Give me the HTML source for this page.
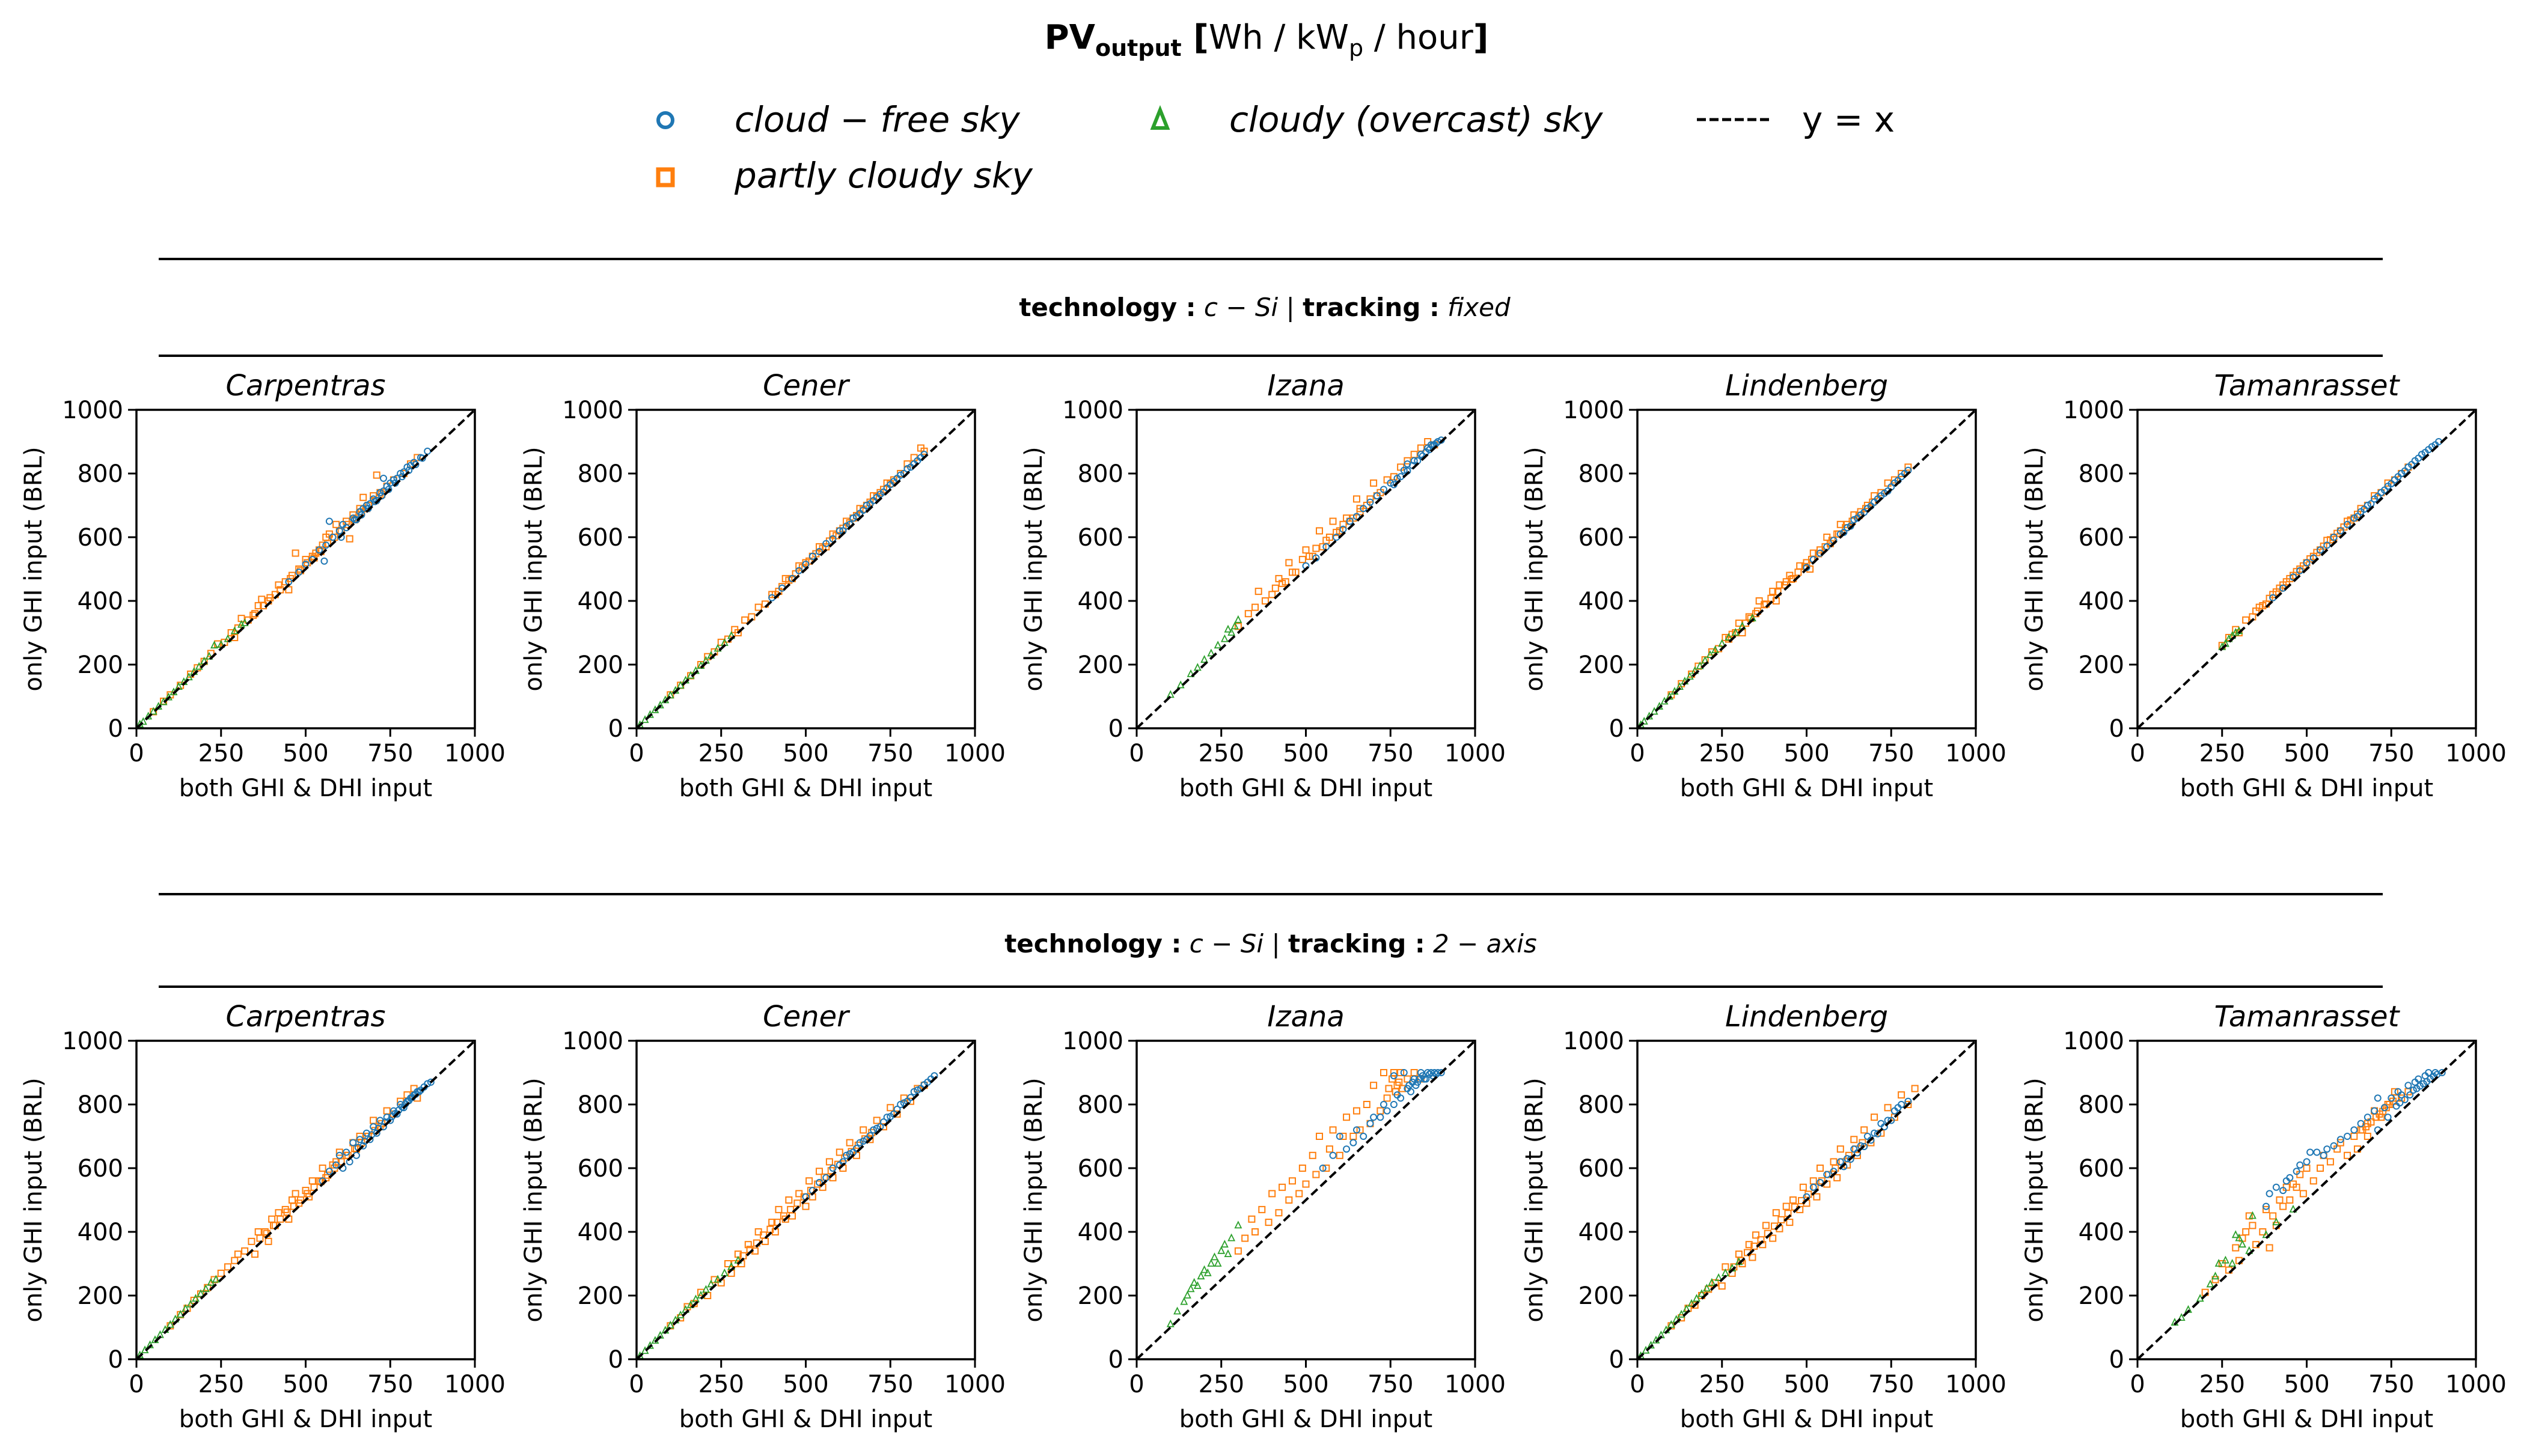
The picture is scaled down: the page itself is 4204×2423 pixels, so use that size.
<!DOCTYPE html>
<html><head><meta charset="utf-8">
<style>
html,body{margin:0;padding:0;background:#fff;}
svg{display:block;font-family:"DejaVu Sans","Liberation Sans",sans-serif;}
</style></head>
<body>
<svg id="fig" width="4204" height="2423" viewBox="0 0 4204 2423" xmlns="http://www.w3.org/2000/svg">
<text x="2107" y="81" text-anchor="middle" font-size="56"><tspan font-weight="bold">PV</tspan><tspan font-weight="bold" font-size="38" dy="12">output</tspan><tspan dy="-12" font-weight="bold">    [</tspan><tspan>Wh / kW</tspan><tspan font-size="38" dy="12">p</tspan><tspan dy="-12"> / hour</tspan><tspan font-weight="bold">]</tspan></text>
<g>
 <circle cx="1107" cy="200" r="12" fill="none" stroke="#1f77b4" stroke-width="6"/>
 <text x="1222" y="219" font-size="58" font-style="italic">cloud − free sky</text>
 <rect x="1095" y="282" width="24" height="26" fill="none" stroke="#ff7f0e" stroke-width="7"/>
 <text x="1222" y="312" font-size="58" font-style="italic">partly cloudy sky</text>
 <polygon points="1930,183 1942,213 1918,213" fill="none" stroke="#2ca02c" stroke-width="6"/>
 <text x="2045" y="219" font-size="58" font-style="italic">cloudy (overcast) sky</text>
 <line x1="2823" y1="199" x2="2948" y2="199" stroke="#000" stroke-width="5" stroke-dasharray="15,6"/>
 <text x="2998" y="219" font-size="58">y = x</text>
</g>
<line x1="264" y1="431" x2="3964" y2="431" stroke="#000" stroke-width="4"/>
<text x="2104" y="526" text-anchor="middle" font-size="42"><tspan font-weight="bold">technology :</tspan><tspan font-style="italic"> c − Si </tspan><tspan>| </tspan><tspan font-weight="bold">tracking :</tspan><tspan font-style="italic"> fixed</tspan></text>
<line x1="264" y1="592" x2="3964" y2="592" stroke="#000" stroke-width="4"/>
<line x1="264" y1="1488" x2="3964" y2="1488" stroke="#000" stroke-width="4"/>
<text x="2114" y="1585" text-anchor="middle" font-size="42"><tspan font-weight="bold">technology :</tspan><tspan font-style="italic"> c − Si </tspan><tspan>| </tspan><tspan font-weight="bold">tracking :</tspan><tspan font-style="italic"> 2 − axis</tspan></text>
<line x1="264" y1="1642" x2="3964" y2="1642" stroke="#000" stroke-width="4"/>
<g id="panels"></g>
</svg>
<script>
const sites = ["Carpentras","Cener","Izana","Lindenberg","Tamanrasset"];
const xTicks = [0,250,500,750,1000];
const yTicks = [0,200,400,600,800,1000];
const xTickLabels = ["0","250","500","750","1000"];
const yTickLabels = ["0","200","400","600","800","1000"];

// Row 1: fixed tracking
const carpFixedClear = [450,460,480,490,500,515,520,530,540,560,555,525,560,575,570,650,580,600,600,620,605,600,610,640,620,630,640,660,650,655,660,680,670,690,680,700,690,705,700,720,710,715,720,740,730,745,730,785,740,760,750,770,760,780,770,785,780,800,790,805,800,820,810,825,820,835,840,850,860,870,645,655,665,670,685,690,705,712,725,730,745,750,765,770,785,790,805,810,825,828,845,848];
const carpFixedPartly = [50,52,80,85,100,105,130,135,160,170,180,190,200,210,220,235,240,265,260,270,280,300,290,285,300,315,310,345,330,340,350,360,360,385,370,405,390,400,410,420,420,450,440,460,450,435,460,480,470,550,480,500,500,530,520,540,530,550,540,560,550,575,560,600,570,610,590,640,600,620,620,650,630,595,640,670,650,660,660,690,680,690,700,730,720,740,740,760,760,780,790,800,810,830,830,850,710,795,670,725,345,355,375,385,395,410,425,435,455,470,485,495,505,520,525,535,545,555,565,580,585,600,605,618,625,640,645,655,665,680,685,700,705,715,725,735];
const carpFixedCloudy = [10,12,20,20,35,37,50,52,65,68,80,82,95,97,110,113,125,130,140,145,155,160,170,177,185,193,200,210,215,225,230,260,250,262,270,280,290,305,310,325,320,330];

const cenFixedClear = [400,410,430,440,460,470,480,495,500,515,520,540,540,555,560,580,580,595,600,620,620,635,640,660,660,675,680,700,700,715,720,735,740,755,760,775,780,795,800,815,820,830,840,850,850,860,610,620,630,640,650,665,670,685,690,705,710,725,730,742,750,765,770,785,790,800,810,820,830,840];
const cenFixedPartly = [100,105,130,135,160,165,190,200,210,225,230,240,250,270,270,280,290,310,300,300,320,340,340,350,360,380,380,390,400,420,420,430,440,470,460,470,480,510,500,520,520,540,540,570,560,570,580,610,600,620,620,650,640,660,660,690,680,700,700,730,720,740,740,770,760,780,780,800,800,830,820,850,840,880,850,870,410,420,430,445,450,465,470,485,490,505,510,525,530,548,550,565,570,588,590,605,610,628,630,645,650,668,670,688,690,710,710,728,730,750,750,768];
const cenFixedCloudy = [10,10,25,26,40,42,55,57,70,72,85,88,100,103,115,118,130,134,145,150,160,165,175,180,190,196,205,212,220,228,240,250,260,268,280,290];

const izaFixedClear = [500,510,530,535,560,570,590,600,610,625,630,650,650,665,670,690,690,710,710,730,730,750,750,770,770,785,790,810,800,830,820,840,840,860,860,880,870,890,890,900,900,905,880,890,760,765,780,790,800,808,815,825,830,840,845,855,855,868,865,875,875,888,885,895];
const izaFixedPartly = [300,320,330,360,350,380,360,430,380,400,400,420,420,470,440,460,450,520,470,490,490,530,500,560,520,540,540,620,550,570,570,600,580,650,600,620,620,660,640,660,650,720,660,690,680,700,700,770,720,740,740,780,760,790,780,820,800,840,820,860,840,880,860,900,880,890,410,440,430,455,460,490,510,540,530,565,560,590,590,615,610,640,630,650,660,680,690,720,710,730];
const izaFixedCloudy = [100,105,130,135,160,170,180,190,200,215,220,235,240,260,260,280,270,310,280,300,290,320,300,340];

const linFixedClear = [500,505,520,530,540,550,560,570,580,590,600,610,620,630,640,655,660,670,680,690,700,710,720,730,740,745,760,770,780,790,790,800,800,810,610,615,630,635,650,660,670,678,690,698,710,720,730,738,750,758,770,778];
const linFixedPartly = [100,105,130,140,160,170,180,195,200,215,220,240,240,250,260,285,280,295,300,330,310,300,330,350,350,360,360,400,380,390,400,430,410,400,420,450,440,460,450,480,460,470,480,510,500,520,510,500,520,550,540,560,560,600,570,580,590,610,600,640,620,640,640,670,660,680,680,700,700,730,720,740,740,770,760,780,780,800,800,820,270,280,290,300,320,330,335,345,355,368,375,388,395,408,415,428,435,450,455,468,475,490,495,508,515,530,535,548,555,570,575,590,595,610,615,630,635,650,655,668,675,690,695,710];
const linFixedCloudy = [10,10,20,21,35,37,50,52,65,68,80,84,95,99,110,115,125,130,140,147,155,162,170,180,185,195,200,212,215,230,230,245,250,265,270,285,290,300,310,320,340,345];

const tamFixedClear = [400,410,430,440,460,475,480,495,500,520,520,535,540,560,560,575,580,600,600,620,620,640,640,660,660,680,680,700,700,720,720,740,740,760,760,780,780,800,800,820,820,840,840,860,860,875,880,890,890,900,650,665,670,688,690,705,710,728,730,748,750,768,770,790,790,808,810,828,830,848,850,866,870,884];
const tamFixedPartly = [250,260,270,285,290,310,300,300,320,340,340,350,360,380,380,390,400,420,420,440,440,460,460,480,480,500,500,520,520,540,540,560,560,590,580,600,600,620,620,650,640,660,660,690,680,700,700,730,720,740,740,770,760,780,780,800,800,820,350,368,370,385,390,408,410,428,430,450,450,470,470,492,490,510,510,532,530,552,550,572,570,592,590,612,610,632,630,654,650,672];
const tamFixedCloudy = [250,255,260,265,270,280,280,290,290,300,300,305];

// Row 2: 2-axis tracking
const carp2Clear = [550,560,570,590,590,610,600,640,610,600,620,650,630,620,640,680,650,640,660,690,670,670,680,710,690,690,700,730,710,710,720,750,730,730,740,760,750,750,760,780,770,770,780,800,790,790,800,810,810,820,820,830,830,840,840,845,850,855,860,865,870,870,655,665,675,685,695,705,715,725,735,745,755,762,765,772,775,782,785,792,795,802,805,812,815,822,825,832,835,840];
const carp2Partly = [100,105,130,140,150,160,170,185,190,205,210,225,230,250,250,270,270,290,290,310,300,330,320,340,340,370,350,330,360,400,380,400,390,370,400,440,410,420,420,460,440,470,450,440,460,500,470,520,480,490,500,530,510,510,520,560,540,560,550,600,560,570,580,610,590,620,600,650,620,640,640,680,650,660,660,700,680,700,700,750,720,730,740,780,760,770,780,810,800,830,820,850,830,820,365,380,385,395,405,420,425,440,445,462,465,480,485,500,505,520,525,540,545,558,565,578,585,600,605,620,625,640,645,662,665,680,685,700,705,718,725,740];
const carp2Cloudy = [10,12,25,28,40,44,55,60,70,76,85,92,100,108,115,125,130,140,145,158,160,172,175,190,190,205,205,220,220,240,235,250];

const cen2Clear = [500,510,520,530,540,555,560,570,580,600,600,610,620,640,640,650,660,680,680,690,700,720,720,730,740,760,760,770,780,800,800,810,820,840,840,850,860,870,870,880,880,890,610,620,630,645,650,662,670,685,690,702,710,725,730,745,750,762,770,785,790,805,810,822,830,845,850,862];
const cen2Partly = [100,105,130,130,150,165,170,175,190,210,210,200,230,250,250,240,270,300,280,270,300,330,310,300,330,360,350,340,360,400,380,370,400,430,410,400,420,470,440,440,450,500,460,450,480,520,500,480,510,560,520,510,540,590,550,540,570,620,580,570,600,650,610,600,630,680,650,640,670,720,690,690,710,750,730,730,750,790,770,770,790,820,810,810,830,850,850,860,290,300,315,325,335,345,355,365,375,390,395,408,415,430,435,450,455,470,475,490,495,510,515,530,535,550,555,572,575,592,595,612,615,632,635,652,655,672,675,692,695,712];
const cen2Cloudy = [10,10,25,26,40,42,55,58,70,74,85,90,100,106,115,122,130,138,145,155,160,170,175,188,190,200,205,218,220,235,240,250,260,270,280,290,300,310];

const iza2Clear = [550,600,580,640,600,700,620,660,640,680,650,720,670,700,690,740,700,760,720,760,730,800,740,780,760,800,770,830,780,820,800,850,810,840,820,880,830,870,840,900,850,880,860,900,870,900,880,900,890,900,900,900,760,890,790,900,805,860,815,870,825,860,835,880,845,890,855,880,865,895,875,890,885,895];
const iza2Partly = [300,340,320,380,340,440,350,400,370,470,390,430,400,520,420,460,430,540,450,500,460,560,480,520,490,600,500,550,520,640,530,580,540,700,560,600,570,660,580,720,600,640,610,700,620,760,640,700,650,780,660,720,680,800,690,740,700,860,720,780,730,900,740,820,760,900,770,860,780,900,800,880,820,900,840,880,745,850,755,880,765,840,775,870,785,850];
const iza2Cloudy = [100,110,120,150,140,180,150,200,160,220,170,240,180,230,190,260,200,280,210,270,220,300,230,320,240,300,250,340,260,360,270,330,280,380,300,420];

const lin2Clear = [500,510,520,540,540,555,560,580,580,590,600,620,620,630,640,660,660,670,680,700,700,710,720,740,740,750,760,780,770,790,780,800,800,810,610,605,630,628,650,648,670,668,690,688,710,708,730,730,750,750];
const lin2Partly = [100,105,130,130,150,160,170,170,190,200,210,220,230,240,250,230,260,290,280,270,300,330,310,300,330,360,340,320,350,390,370,360,380,420,400,380,410,460,420,410,440,480,450,430,460,500,480,470,490,540,500,490,520,560,530,510,540,600,560,550,580,620,590,570,600,660,620,610,640,690,650,640,670,720,690,680,700,760,720,710,740,790,760,760,780,830,800,800,820,850,285,290,305,310,325,335,345,355,365,375,385,395,405,418,425,438,445,458,465,478,485,498,505,518,525,540,545,560,565,580,585,600,605,620,625,640,645,660,665,680];
const lin2Cloudy = [10,10,25,27,40,43,55,59,70,75,85,91,100,108,115,124,130,140,145,157,160,174,175,190,190,205,205,222,220,240,240,255,260,270,280,285,300,305];

const tam2Clear = [380,480,390,520,410,540,430,530,440,560,450,570,470,590,480,610,500,620,510,650,530,650,550,640,560,660,580,670,600,690,620,700,640,720,660,740,680,760,700,780,710,820,730,790,750,820,770,840,780,830,800,860,820,870,830,880,850,890,860,900,880,900,900,900,740,760,710,720,765,795,775,805,790,815,805,830,815,845,825,850,835,858,845,865,855,872,865,880,875,888,885,894];
const tam2Partly = [200,210,230,250,250,300,270,280,290,350,300,310,310,380,320,400,330,450,340,420,350,360,370,400,380,470,390,350,400,450,410,420,420,500,430,480,440,540,450,500,460,550,470,540,480,580,490,520,500,600,520,560,540,600,550,640,570,620,590,660,600,680,620,640,640,700,660,720,680,740,700,780,720,760,740,800,760,840,780,820,800,840,680,700,650,660,665,720,675,730,690,745,705,760,715,770,725,778,735,790,745,800,755,810,765,820];
const tam2Cloudy = [110,115,130,130,150,155,185,190,215,235,230,260,240,300,260,310,280,300,290,390,300,380,310,360,330,340,340,450,380,390,410,430,460,470];

const rows = [
  [[carpFixedClear,carpFixedPartly,carpFixedCloudy],[cenFixedClear,cenFixedPartly,cenFixedCloudy],[izaFixedClear,izaFixedPartly,izaFixedCloudy],[linFixedClear,linFixedPartly,linFixedCloudy],[tamFixedClear,tamFixedPartly,tamFixedCloudy]],
  [[carp2Clear,carp2Partly,carp2Cloudy],[cen2Clear,cen2Partly,cen2Cloudy],[iza2Clear,iza2Partly,iza2Cloudy],[lin2Clear,lin2Partly,lin2Cloudy],[tam2Clear,tam2Partly,tam2Cloudy]]
];

const NS = "http://www.w3.org/2000/svg";
const root = document.getElementById("panels");
function mk(tag, attrs, parent){const e=document.createElementNS(NS,tag);for(const k in attrs)e.setAttribute(k,attrs[k]);parent.appendChild(e);return e;}

const PW = 563, PH = 530;
const lefts = [227, 1059, 1891, 2724, 3556];
const tops = [682, 1732];

for (let r=0;r<2;r++){
  for (let c=0;c<5;c++){
    const L=lefts[c], T=tops[r], B=T+PH, R=L+PW;
    const sx = v => L + v/1000*PW;
    const sy = v => B - v/1000*PH;
    const g = mk("g",{},root);
    
    
    const t = mk("text",{x:(L+R)/2,y:T-24,"text-anchor":"middle","font-size":48,"font-style":"italic"},g);
    t.textContent = sites[c];
    
    
    const [clear,partly,cloudy] = rows[r][c];
    const gs = mk("g",{},g);
    
    
    for (let i=0;i<partly.length;i+=2){
      const m = mk("rect",{x:sx(partly[i])-5,y:sy(partly[i+1])-5,width:10,height:10,fill:"none",stroke:"#ff7f0e","stroke-width":2},gs);
      
      
    }
    const gc = mk("g",{},g);
    
    
    for (let i=0;i<clear.length;i+=2){
      const m = mk("circle",{cx:sx(clear[i]),cy:sy(clear[i+1]),r:5,fill:"none",stroke:"#1f77b4","stroke-width":2},gc);
      
      
    }
    const gt = mk("g",{},g);
    
    
    for (let i=0;i<cloudy.length;i+=2){
      const x=sx(cloudy[i]), y=sy(cloudy[i+1]);
      const m = mk("polygon",{points:`${x},${y-6} ${x+5},${y+4} ${x-5},${y+4}`,fill:"none",stroke:"#2ca02c","stroke-width":1.8},gt);
      
      
    }
    const d = mk("line",{x1:sx(0),y1:sy(0),x2:sx(1000),y2:sy(1000),stroke:"#000","stroke-width":4,"stroke-dasharray":"14,7"},g);
    
    
    const fr = mk("rect",{x:L,y:T,width:PW,height:PH,fill:"none",stroke:"#000","stroke-width":3.5},g);
    
    
    xTicks.forEach((v,i)=>{
      mk("line",{x1:sx(v),y1:B,x2:sx(v),y2:B+14,stroke:"#000","stroke-width":3},g);
      const tl = mk("text",{x:sx(v),y:B+55,"text-anchor":"middle","font-size":40},g);
      tl.textContent = xTickLabels[i];
      
      
    });
    yTicks.forEach((v,i)=>{
      mk("line",{x1:L-14,y1:sy(v),x2:L,y2:sy(v),stroke:"#000","stroke-width":3},g);
      const tl = mk("text",{x:L-22,y:sy(v)+14,"text-anchor":"end","font-size":40},g);
      tl.textContent = yTickLabels[i];
      
      
    });
    const xl = mk("text",{x:(L+R)/2,y:B+113,"text-anchor":"middle","font-size":40},g);
    xl.textContent = "both GHI & DHI input";
    
    
    const yx = L-158, yy=(T+B)/2;
    const yl = mk("text",{x:yx,y:yy,"text-anchor":"middle","font-size":40,transform:`rotate(-90 ${yx} ${yy})`},g);
    yl.textContent = "only GHI input (BRL)";
    
    
  }
}
</script>
</body></html>
